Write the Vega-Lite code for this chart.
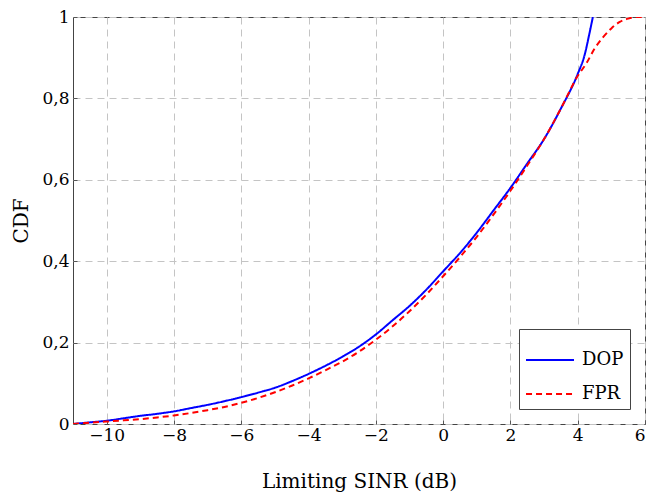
{
  "$schema": "https://vega.github.io/schema/vega-lite/v6.json",
  "autosize": "none",
  "width": 572,
  "height": 407,
  "padding": {"left": 73, "top": 17, "right": 11, "bottom": 75},
  "background": "white",
  "config": {
    "font": "DejaVu Serif",
    "view": {"stroke": "#444444", "strokeWidth": 1}
  },
  "data": {
    "values": [
      {"x": -11, "cdf": 0, "s": "DOP"},
      {"x": -10.5, "cdf": 0.004, "s": "DOP"},
      {"x": -10, "cdf": 0.008, "s": "DOP"},
      {"x": -9.5, "cdf": 0.014, "s": "DOP"},
      {"x": -9, "cdf": 0.02, "s": "DOP"},
      {"x": -8.5, "cdf": 0.025, "s": "DOP"},
      {"x": -8, "cdf": 0.031, "s": "DOP"},
      {"x": -7.5, "cdf": 0.039, "s": "DOP"},
      {"x": -7, "cdf": 0.047, "s": "DOP"},
      {"x": -6.5, "cdf": 0.056, "s": "DOP"},
      {"x": -6, "cdf": 0.066, "s": "DOP"},
      {"x": -5.5, "cdf": 0.077, "s": "DOP"},
      {"x": -5, "cdf": 0.089, "s": "DOP"},
      {"x": -4.5, "cdf": 0.105, "s": "DOP"},
      {"x": -4, "cdf": 0.123, "s": "DOP"},
      {"x": -3.5, "cdf": 0.143, "s": "DOP"},
      {"x": -3, "cdf": 0.165, "s": "DOP"},
      {"x": -2.5, "cdf": 0.19, "s": "DOP"},
      {"x": -2, "cdf": 0.22, "s": "DOP"},
      {"x": -1.5, "cdf": 0.255, "s": "DOP"},
      {"x": -1, "cdf": 0.29, "s": "DOP"},
      {"x": -0.5, "cdf": 0.33, "s": "DOP"},
      {"x": 0, "cdf": 0.375, "s": "DOP"},
      {"x": 0.5, "cdf": 0.42, "s": "DOP"},
      {"x": 1, "cdf": 0.47, "s": "DOP"},
      {"x": 1.5, "cdf": 0.525, "s": "DOP"},
      {"x": 2, "cdf": 0.58, "s": "DOP"},
      {"x": 2.5, "cdf": 0.64, "s": "DOP"},
      {"x": 3, "cdf": 0.70, "s": "DOP"},
      {"x": 3.5, "cdf": 0.775, "s": "DOP"},
      {"x": 4, "cdf": 0.86, "s": "DOP"},
      {"x": 4.2, "cdf": 0.905, "s": "DOP"},
      {"x": 4.35, "cdf": 0.96, "s": "DOP"},
      {"x": 4.45, "cdf": 1.0, "s": "DOP"},
      {"x": -11, "cdf": 0, "s": "FPR"},
      {"x": -10.5, "cdf": 0.003, "s": "FPR"},
      {"x": -10, "cdf": 0.006, "s": "FPR"},
      {"x": -9.5, "cdf": 0.009, "s": "FPR"},
      {"x": -9, "cdf": 0.012, "s": "FPR"},
      {"x": -8.5, "cdf": 0.016, "s": "FPR"},
      {"x": -8, "cdf": 0.021, "s": "FPR"},
      {"x": -7.5, "cdf": 0.027, "s": "FPR"},
      {"x": -7, "cdf": 0.034, "s": "FPR"},
      {"x": -6.5, "cdf": 0.042, "s": "FPR"},
      {"x": -6, "cdf": 0.052, "s": "FPR"},
      {"x": -5.5, "cdf": 0.064, "s": "FPR"},
      {"x": -5, "cdf": 0.078, "s": "FPR"},
      {"x": -4.5, "cdf": 0.094, "s": "FPR"},
      {"x": -4, "cdf": 0.112, "s": "FPR"},
      {"x": -3.5, "cdf": 0.132, "s": "FPR"},
      {"x": -3, "cdf": 0.153, "s": "FPR"},
      {"x": -2.5, "cdf": 0.178, "s": "FPR"},
      {"x": -2, "cdf": 0.207, "s": "FPR"},
      {"x": -1.5, "cdf": 0.24, "s": "FPR"},
      {"x": -1, "cdf": 0.277, "s": "FPR"},
      {"x": -0.5, "cdf": 0.318, "s": "FPR"},
      {"x": 0, "cdf": 0.363, "s": "FPR"},
      {"x": 0.5, "cdf": 0.41, "s": "FPR"},
      {"x": 1, "cdf": 0.46, "s": "FPR"},
      {"x": 1.5, "cdf": 0.515, "s": "FPR"},
      {"x": 2, "cdf": 0.573, "s": "FPR"},
      {"x": 2.5, "cdf": 0.635, "s": "FPR"},
      {"x": 3, "cdf": 0.70, "s": "FPR"},
      {"x": 3.5, "cdf": 0.775, "s": "FPR"},
      {"x": 4, "cdf": 0.855, "s": "FPR"},
      {"x": 4.25, "cdf": 0.885, "s": "FPR"},
      {"x": 4.5, "cdf": 0.922, "s": "FPR"},
      {"x": 4.75, "cdf": 0.95, "s": "FPR"},
      {"x": 5, "cdf": 0.972, "s": "FPR"},
      {"x": 5.25, "cdf": 0.988, "s": "FPR"},
      {"x": 5.5, "cdf": 0.996, "s": "FPR"},
      {"x": 5.75, "cdf": 1.0, "s": "FPR"},
      {"x": 6, "cdf": 1.0, "s": "FPR"}
    ]
  },
  "mark": {"type": "line", "strokeWidth": 2, "clip": true, "interpolate": "monotone"},
  "encoding": {
    "x": {
      "field": "x", "type": "quantitative",
      "scale": {"domain": [-11, 6], "nice": false, "zero": false},
      "axis": {
        "values": [-10, -8, -6, -4, -2, 0, 2, 4, 6],
        "title": "Limiting SINR (dB)",
        "titleFont": "DejaVu Serif", "titleFontSize": 20, "titleFontWeight": "normal",
        "titleColor": "#000", "titlePadding": 28,
        "labelFont": "DejaVu Serif", "labelFontSize": 17, "labelColor": "#000", "labelPadding": 7,
        "grid": true, "gridDash": [7, 5], "gridColor": "#c4c4c4",
        "domain": false, "ticks": true, "tickSize": -4, "tickColor": "#555"
      }
    },
    "y": {
      "field": "cdf", "type": "quantitative",
      "scale": {"domain": [0, 1], "nice": false},
      "axis": {
        "values": [0, 0.2, 0.4, 0.6, 0.8, 1],
        "format": ".1~f",
        "labelExpr": "replace(datum.label, '.', ',')",
        "title": "CDF",
        "titleFont": "DejaVu Serif", "titleFontSize": 20, "titleFontWeight": "normal",
        "titleColor": "#000", "titlePadding": 10,
        "labelFont": "DejaVu Serif", "labelFontSize": 17, "labelColor": "#000", "labelPadding": 8,
        "grid": true, "gridDash": [7, 5], "gridColor": "#c4c4c4",
        "domain": false, "ticks": true, "tickSize": -4, "tickColor": "#555"
      }
    },
    "color": {
      "field": "s", "type": "nominal",
      "scale": {"domain": ["DOP", "FPR"], "range": ["#0000ff", "#ff0000"]},
      "legend": {
        "title": null, "orient": "bottom-right", "offset": 15,
        "symbolType": "stroke", "symbolSize": 2300, "symbolStrokeWidth": 2,
        "labelFontSize": 18, "labelColor": "#000", "labelFont": "DejaVu Serif", "labelOffset": 7,
        "strokeColor": "#444", "padding": 6, "fillColor": "white", "rowPadding": -22
      }
    },
    "strokeDash": {
      "field": "s", "type": "nominal",
      "scale": {"domain": ["DOP", "FPR"], "range": [[1, 0], [6, 4]]},
      "legend": null
    }
  }
}
